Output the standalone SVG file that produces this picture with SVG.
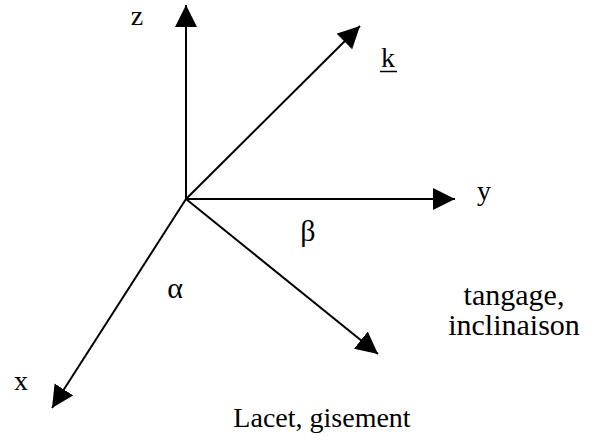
<svg xmlns="http://www.w3.org/2000/svg" width="590" height="441" viewBox="0 0 590 441">
<style>
.ax{stroke:#000;stroke-width:2;fill:none;marker-end:url(#ah)}
text{font-family:"Liberation Serif","Times New Roman",serif;font-size:28px;fill:#000}
.big{font-size:30px}
</style>
<defs>
<marker id="ah" markerUnits="userSpaceOnUse" markerWidth="24" markerHeight="24" refX="22" refY="11" orient="auto" viewBox="0 0 24 24">
<path d="M0,0 L22,11 L0,22 Z" fill="#000"/>
</marker>
</defs>
<rect width="590" height="441" fill="#fff"/>
<g id="connectors">
<line class="ax" x1="186" y1="199" x2="186" y2="5"/>
<line class="ax" x1="186" y1="199" x2="360" y2="26"/>
<line class="ax" x1="186" y1="199" x2="455" y2="199"/>
<line class="ax" x1="186" y1="199" x2="52" y2="408"/>
<line class="ax" x1="186" y1="199" x2="378" y2="354"/>
</g>
<g id="label-z"><text x="137" y="25" text-anchor="middle">z</text></g>
<g id="label-k"><text x="388" y="67" text-anchor="middle">k</text><line x1="380" y1="71.5" x2="397" y2="71.5" stroke="#000" stroke-width="1.5"/></g>
<g id="label-y"><text x="484" y="200" text-anchor="middle">y</text></g>
<g id="label-x"><text x="21" y="390" text-anchor="middle">x</text></g>
<g id="label-beta"><text class="big" x="308" y="241" text-anchor="middle">β</text></g>
<g id="label-alpha"><text class="big" x="175" y="298" text-anchor="middle">α</text></g>
<g id="label-tangage"><text class="big" x="514" y="305" text-anchor="middle">tangage,</text><text class="big" x="514" y="335" text-anchor="middle">inclinaison</text></g>
<g id="label-lacet"><text x="322" y="427" text-anchor="middle">Lacet, gisement</text></g>
</svg>
